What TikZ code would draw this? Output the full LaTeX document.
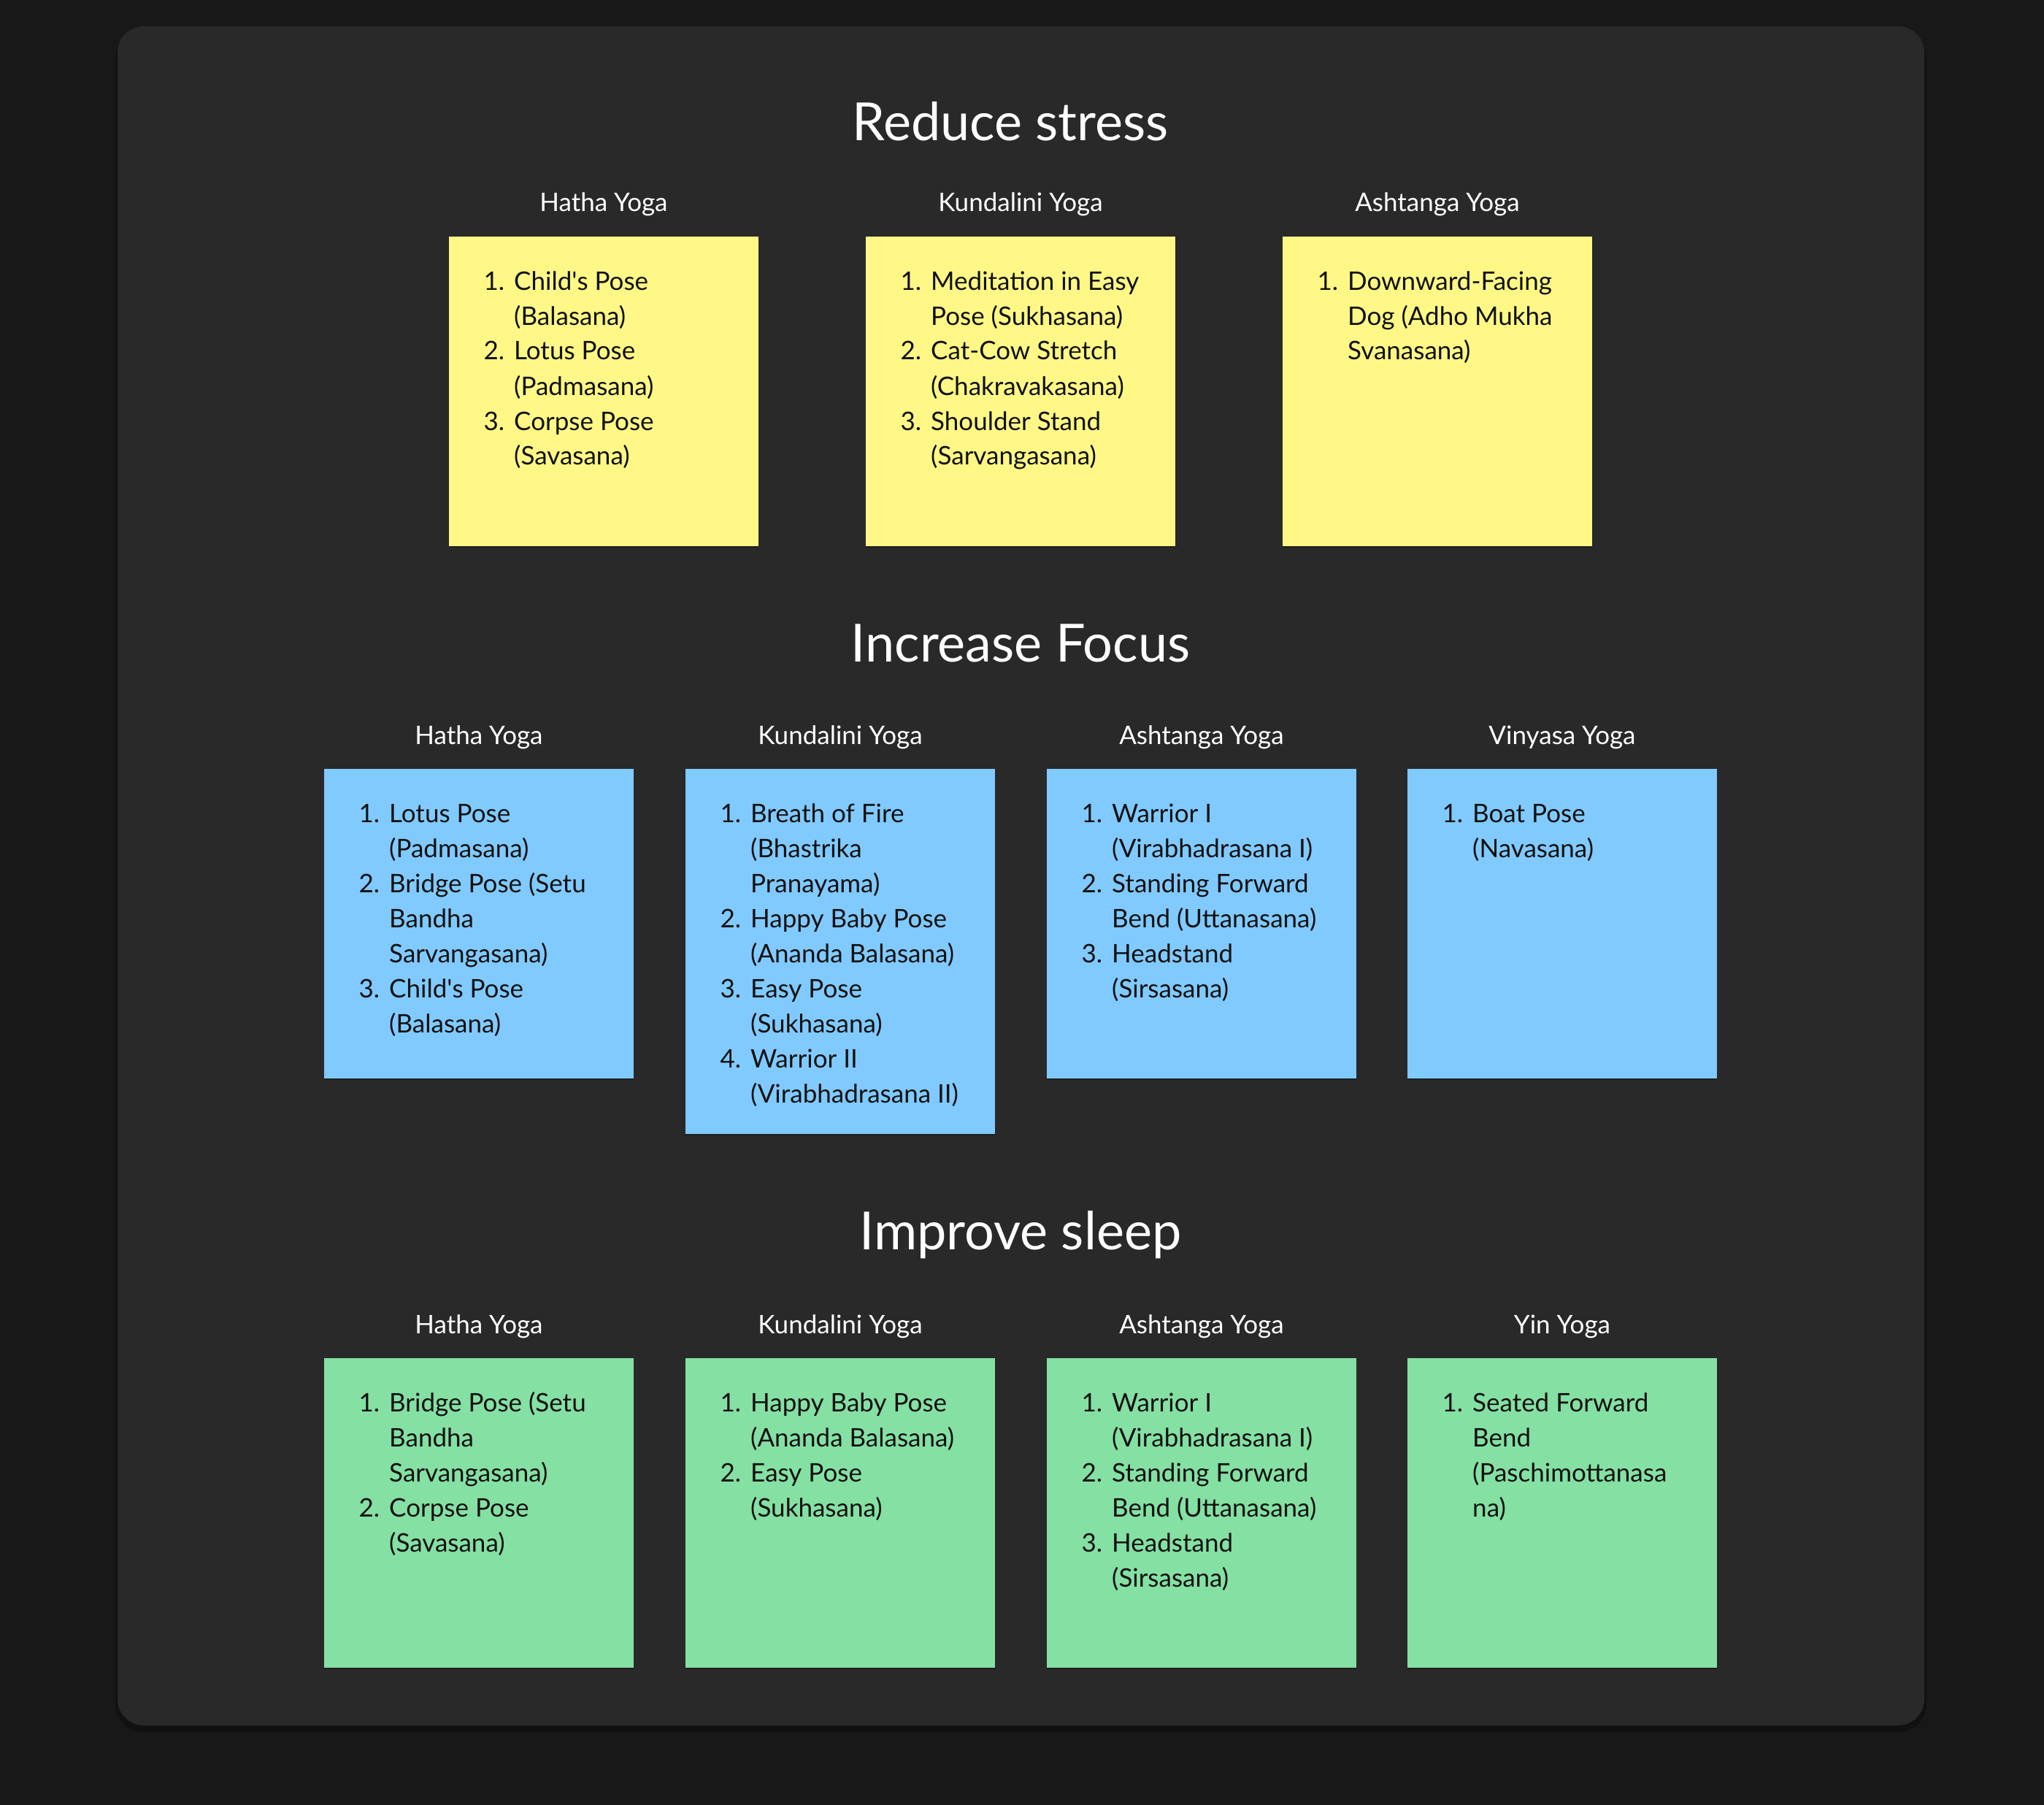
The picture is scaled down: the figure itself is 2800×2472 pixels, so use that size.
\documentclass[tikz,border=0pt]{standalone}
\usepackage{fontspec}
\setmainfont{Lato}
\definecolor{cOuter}{HTML}{181818}
\definecolor{cPanel}{HTML}{292929}
\definecolor{cShade}{HTML}{111111}
\definecolor{cYellow}{HTML}{FFF886}
\definecolor{cBlue}{HTML}{80CAFF}
\definecolor{cGreen}{HTML}{85E0A3}
\definecolor{cInk}{HTML}{111111}
\definecolor{cWhite}{HTML}{FFFFFF}
\newcommand\nm[1]{\makebox[29pt][r]{#1}}
\newcommand\apo{\textquotesingle}
\newcommand\lstfont{\fontsize{35}{48}\selectfont}
\newcommand\hdrfont{\fontsize{35}{42}\selectfont}
\newcommand\ttlfont{\fontsize{72}{80}\selectfont}
\tikzset{
  note/.style={draw=none, minimum width=424pt, minimum height=424pt, anchor=north west, inner sep=0pt, outer sep=0pt},
  yel/.style={note, fill=cYellow},
  blu/.style={note, fill=cBlue},
  grn/.style={note, fill=cGreen},
  hdr/.style={text=cWhite, font=\hdrfont, anchor=base, inner sep=0pt},
  ttl/.style={text=cWhite, font=\ttlfont, anchor=base, inner sep=0pt},
  lst/.style={anchor=base west, inner sep=0pt, text=cInk, font=\lstfont, align=left},
  nshadow/.style={fill=black, opacity=0.25, draw=none}
}
\newcommand\items[1]{\begin{tabular}[t]{@{}l@{\hspace{13pt}}l@{}}#1\end{tabular}}
\begin{document}
\begin{tikzpicture}[x=1pt,y=-1pt]
\fill[cOuter] (0,0) rectangle (2800,2472);
\useasboundingbox (0,0) rectangle (2800,2472);
% panel
\fill[cShade, rounded corners=38pt] (158,42) rectangle (2639,2372);
\fill[cPanel, rounded corners=36pt] (161,36) rectangle (2636,2363);

% titles
\node[ttl] (t1) at (1384,193) {Reduce stress};
\node[ttl] (t2) at (1398,906) {Increase Focus};
\node[ttl] (t3) at (1398,1711) {Improve sleep};

% ---------- Row 1 ----------
\foreach \x in {615,1186,1757}{\fill[nshadow] (\x,326) rectangle ++(424,424);}
\node[yel] (a1) at (615,324) {};
\node[yel] (a2) at (1186,324) {};
\node[yel] (a3) at (1757,324) {};
\node[hdr] (ha1) at ([shift={(0,-34)}]a1.north) {Hatha Yoga};
\node[hdr] (ha2) at ([shift={(0,-34)}]a2.north) {Kundalini Yoga};
\node[hdr] (ha3) at ([shift={(0,-34)}]a3.north) {Ashtanga Yoga};
\node[lst] (la1) at ([shift={(47,73)}]a1.north west) {\items{
\nm{1.} & Child\apo s Pose\\ & (Balasana)\\
\nm{2.} & Lotus Pose\\ & (Padmasana)\\
\nm{3.} & Corpse Pose\\ & (Savasana)}};
\node[lst] (la2) at ([shift={(47,73)}]a2.north west) {\items{
\nm{1.} & Meditation in Easy\\ & Pose (Sukhasana)\\
\nm{2.} & Cat-Cow Stretch\\ & (Chakravakasana)\\
\nm{3.} & Shoulder Stand\\ & (Sarvangasana)}};
\node[lst] (la3) at ([shift={(47,73)}]a3.north west) {\items{
\nm{1.} & Downward-Facing\\ & Dog (Adho Mukha\\ & Svanasana)}};

% ---------- Row 2 ----------
\foreach \x in {444,1434,1928}{\fill[nshadow] (\x,1055) rectangle ++(424,424);}
\fill[nshadow] (939,1055) rectangle ++(424,500);
\node[blu] (b1) at (444,1053) {};
\node[blu, minimum height=500pt] (b2) at (939,1053) {};
\node[blu] (b3) at (1434,1053) {};
\node[blu] (b4) at (1928,1053) {};
\node[hdr] (hb1) at ([shift={(0,-34)}]b1.north) {Hatha Yoga};
\node[hdr] (hb2) at ([shift={(0,-34)}]b2.north) {Kundalini Yoga};
\node[hdr] (hb3) at ([shift={(0,-34)}]b3.north) {Ashtanga Yoga};
\node[hdr] (hb4) at ([shift={(0,-34)}]b4.north) {Vinyasa Yoga};
\node[lst] (lb1) at ([shift={(47,73)}]b1.north west) {\items{
\nm{1.} & Lotus Pose\\ & (Padmasana)\\
\nm{2.} & Bridge Pose (Setu\\ & Bandha\\ & Sarvangasana)\\
\nm{3.} & Child\apo s Pose\\ & (Balasana)}};
\node[lst] (lb2) at ([shift={(47,73)}]b2.north west) {\items{
\nm{1.} & Breath of Fire\\ & (Bhastrika\\ & Pranayama)\\
\nm{2.} & Happy Baby Pose\\ & (Ananda Balasana)\\
\nm{3.} & Easy Pose\\ & (Sukhasana)\\
\nm{4.} & Warrior II\\ & (Virabhadrasana II)}};
\node[lst] (lb3) at ([shift={(47,73)}]b3.north west) {\items{
\nm{1.} & Warrior I\\ & (Virabhadrasana I)\\
\nm{2.} & Standing Forward\\ & Bend (Uttanasana)\\
\nm{3.} & Headstand\\ & (Sirsasana)}};
\node[lst] (lb4) at ([shift={(47,73)}]b4.north west) {\items{
\nm{1.} & Boat Pose\\ & (Navasana)}};

% ---------- Row 3 ----------
\foreach \x in {444,939,1434,1928}{\fill[nshadow] (\x,1862) rectangle ++(424,424);}
\node[grn] (c1) at (444,1860) {};
\node[grn] (c2) at (939,1860) {};
\node[grn] (c3) at (1434,1860) {};
\node[grn] (c4) at (1928,1860) {};
\node[hdr] (hc1) at ([shift={(0,-34)}]c1.north) {Hatha Yoga};
\node[hdr] (hc2) at ([shift={(0,-34)}]c2.north) {Kundalini Yoga};
\node[hdr] (hc3) at ([shift={(0,-34)}]c3.north) {Ashtanga Yoga};
\node[hdr] (hc4) at ([shift={(0,-34)}]c4.north) {Yin Yoga};
\node[lst] (lc1) at ([shift={(47,73)}]c1.north west) {\items{
\nm{1.} & Bridge Pose (Setu\\ & Bandha\\ & Sarvangasana)\\
\nm{2.} & Corpse Pose\\ & (Savasana)}};
\node[lst] (lc2) at ([shift={(47,73)}]c2.north west) {\items{
\nm{1.} & Happy Baby Pose\\ & (Ananda Balasana)\\
\nm{2.} & Easy Pose\\ & (Sukhasana)}};
\node[lst] (lc3) at ([shift={(47,73)}]c3.north west) {\items{
\nm{1.} & Warrior I\\ & (Virabhadrasana I)\\
\nm{2.} & Standing Forward\\ & Bend (Uttanasana)\\
\nm{3.} & Headstand\\ & (Sirsasana)}};
\node[lst] (lc4) at ([shift={(47,73)}]c4.north west) {\items{
\nm{1.} & Seated Forward\\ & Bend\\ & (Paschimottanasa\\ & na)}};
\end{tikzpicture}
\end{document}
